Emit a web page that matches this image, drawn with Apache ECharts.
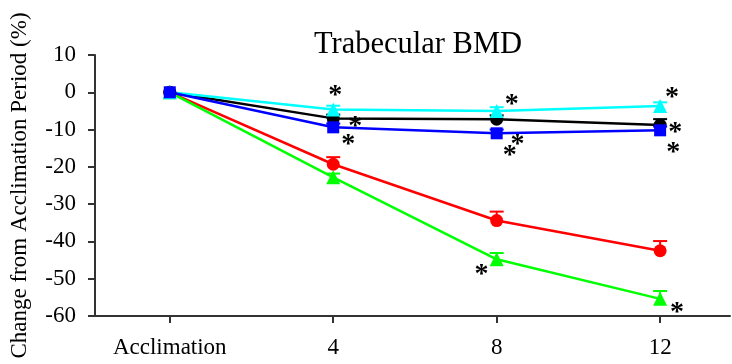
<!DOCTYPE html>
<html>
<head>
<meta charset="utf-8">
<script src="https://cdn.jsdelivr.net/npm/echarts@6/dist/echarts.min.js"></script>
<style>
html,body{margin:0;padding:0;background:#fff;}
#c{width:732px;height:364px;}
</style>
</head>
<body>
<div id="c"></div>
<script>
// x positions (weeks) and their tick labels
const weeks = [0, 4, 8, 12];
const tickLabels = ['Acclimation', '4', '8', '12'];
const yTicks = [-60, -50, -40, -30, -20, -10, 0, 10];

// series values (% change) and one-sided (upper) error
const blackVals = [0, -7.0, -7.2, -8.8];
const blackErr  = [0, 1.0, 1.0, 1.6];
const redVals   = [0, -19.3, -34.4, -42.5];
const redErr    = [0, 1.9, 2.4, 2.6];
const greenVals = [0, -22.8, -44.8, -55.4];
const greenErr  = [0, 1.0, 1.7, 2.1];
const cyanVals  = [0, -4.6, -5.0, -3.7];
const cyanErr   = [0, 1.0, 1.0, 1.0];
const blueVals  = [0, -9.4, -11.0, -10.2];
const blueErr   = [0, 1.0, 1.0, 1.0];

// significance asterisks [x, y] in data units
const stars = [
  [4.05, 0.5], [4.54, -8.0], [4.37, -12.6],
  [8.37, -1.9], [8.51, -12.6], [8.32, -15.8],
  [12.29, 0.0], [12.37, -9.4], [12.32, -15.0],
  [7.63, -47.5], [12.41, -57.9]
];

const FONT = '"Liberation Serif", "Times New Roman", serif';

function lineSeries(name, vals, color, symbol, size) {
  return {
    name: name, type: 'line',
    data: weeks.map((w, i) => [w, vals[i]]),
    symbol: symbol, symbolSize: size,
    itemStyle: {color: color},
    lineStyle: {color: color, width: 2.5},
    z: 3
  };
}
function errSeries(vals, errs, color) {
  return {
    type: 'custom',
    data: weeks.map((w, i) => [w, vals[i], errs[i]]),
    renderItem: function (params, api) {
      const x = api.value(0), v = api.value(1), e = api.value(2);
      if (!e) return null;
      const p0 = api.coord([x, v]);
      const p1 = api.coord([x, v + e]);
      const w = 7;
      return {
        type: 'group',
        children: [
          {type: 'line', shape: {x1: p0[0], y1: p0[1], x2: p1[0], y2: p1[1]}, style: {stroke: color, lineWidth: 2}},
          {type: 'line', shape: {x1: p1[0] - w, y1: p1[1], x2: p1[0] + w, y2: p1[1]}, style: {stroke: color, lineWidth: 2}}
        ]
      };
    },
    z: 2
  };
}

const chart = echarts.init(document.getElementById('c'), null, {renderer: 'canvas'});
chart.setOption({
  animation: false,
  backgroundColor: '#fff',
  title: {
    text: 'Trabecular BMD',
    left: 309, top: 24,
    textStyle: {fontFamily: FONT, fontSize: 30.5, fontWeight: 'normal', color: '#000'}
  },
  grid: {left: 93, right: 2, top: 55, bottom: 48},
  xAxis: {
    type: 'value',
    min: -1.83, max: 13.71,
    splitLine: {show: false},
    axisLine: {onZero: false, lineStyle: {color: '#333', width: 2}},
    axisTick: {show: true, length: 7, lineStyle: {color: '#333', width: 2}, customValues: weeks},
    axisLabel: {
      customValues: weeks,
      margin: 20,
      fontFamily: FONT, fontSize: 23, color: '#000',
      formatter: function (v) { const i = weeks.indexOf(v); return i >= 0 ? tickLabels[i] : ''; }
    }
  },
  yAxis: {
    type: 'value',
    min: -60, max: 10, interval: 10,
    name: 'Change from Acclimation Period (%)',
    nameLocation: 'middle', nameGap: 64,
    nameTextStyle: {fontFamily: FONT, fontSize: 23, color: '#000'},
    splitLine: {show: false},
    axisLine: {show: true, onZero: false, lineStyle: {color: '#333', width: 2}},
    axisTick: {show: true, length: 7, lineStyle: {color: '#333', width: 2}},
    axisLabel: {margin: 19, fontFamily: FONT, fontSize: 23, color: '#000',
      formatter: function (v) { return yTicks.indexOf(v) >= 0 ? String(v) : ''; }}
  },
  series: [
    errSeries(redVals, redErr, '#ff0000'),
    errSeries(greenVals, greenErr, '#00ff00'),
    errSeries(blackVals, blackErr, '#000000'),
    errSeries(cyanVals, cyanErr, '#00ffff'),
    errSeries(blueVals, blueErr, '#0000ff'),
    lineSeries('red', redVals, '#ff0000', 'circle', 13),
    lineSeries('green', greenVals, '#00ff00', 'triangle', 14),
    lineSeries('black', blackVals, '#000000', 'circle', 13),
    lineSeries('cyan', cyanVals, '#00ffff', 'triangle', 14),
    lineSeries('blue', blueVals, '#0000ff', 'rect', 12),
    {
      type: 'custom',
      data: stars,
      renderItem: function (params, api) {
        const p = api.coord([api.value(0), api.value(1)]);
        return {
          type: 'text',
          x: p[0], y: p[1] + 5,
          style: {
            text: '*', fill: '#000',
            font: 'bold 28px ' + FONT,
            textAlign: 'center', textVerticalAlign: 'middle'
          }
        };
      },
      z: 5
    }
  ]
});
</script>
</body>
</html>
